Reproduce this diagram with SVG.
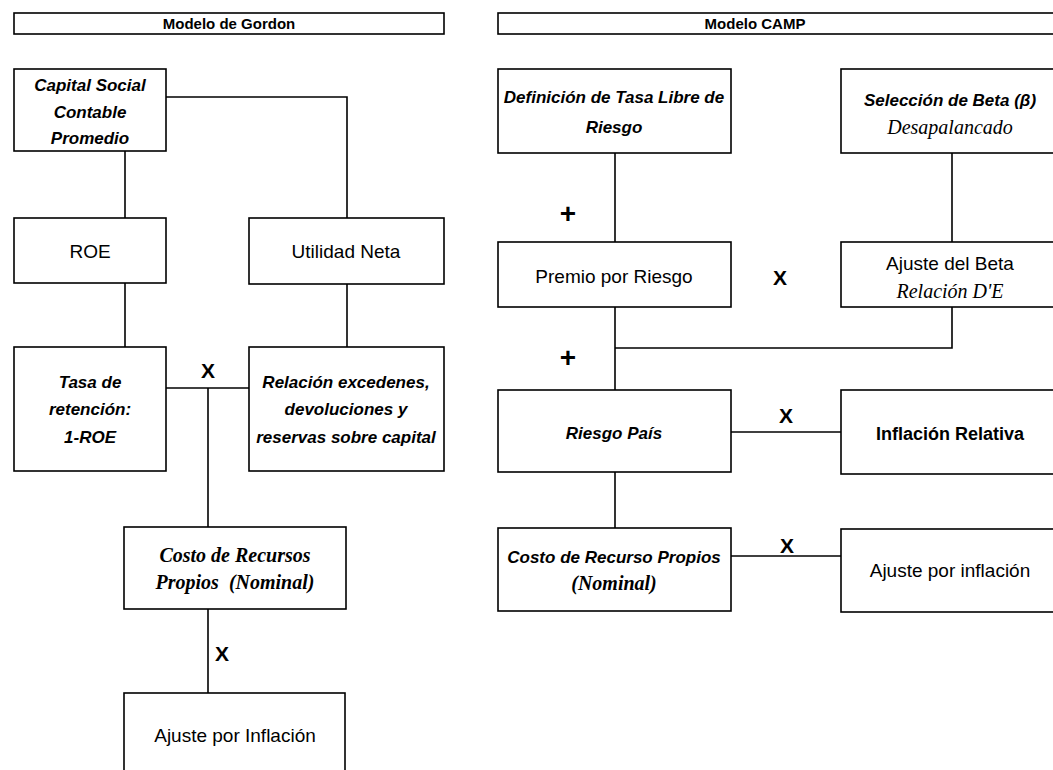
<svg xmlns="http://www.w3.org/2000/svg" width="1053" height="770" viewBox="0 0 1053 770">
<style>
.box{fill:#fff;stroke:#000;stroke-width:1.6}
.ln{fill:none;stroke:#000;stroke-width:1.6}
text{font-family:"Liberation Sans",Arial,sans-serif;fill:#000;text-anchor:middle}
.t{font-size:15px;font-weight:bold}
.r{font-size:19px}
.b{font-size:18px;font-weight:bold}
.bi{font-size:17px;font-weight:bold;font-style:italic}
.si{font-family:"Liberation Serif","Times New Roman",serif;font-size:20px;font-style:italic}
.sbi{font-family:"Liberation Serif","Times New Roman",serif;font-size:20px;font-weight:bold;font-style:italic}
.op{font-size:21px;font-weight:bold}
.pl{font-size:28px;font-weight:bold}
</style>
<rect width="1053" height="770" fill="#fff"/>
<g id="connectors">
<path class="ln" d="M125 151V218"/>
<path class="ln" d="M166 97H347V218"/>
<path class="ln" d="M125 283V347"/>
<path class="ln" d="M347 284V347"/>
<path class="ln" d="M166 388H249"/>
<path class="ln" d="M208 388V527"/>
<path class="ln" d="M208 609V693"/>
<path class="ln" d="M615 153V242"/>
<path class="ln" d="M952 153V242"/>
<path class="ln" d="M615 307V390"/>
<path class="ln" d="M615 348H952V307"/>
<path class="ln" d="M731 432H841"/>
<path class="ln" d="M615 472V528"/>
<path class="ln" d="M731 556H841"/>
<text class="op" x="208" y="378">X</text>
<text class="op" x="222" y="661">X</text>
<text class="pl" x="568" y="223">+</text>
<text class="pl" x="568" y="367">+</text>
<text class="op" x="780" y="285">X</text>
<text class="op" x="786" y="423">X</text>
<text class="op" x="787" y="553">X</text>
</g>
<g id="title-gordon"><rect class="box" x="14" y="13" width="430" height="21"/><text class="t" x="229" y="29">Modelo de Gordon</text></g>
<g id="title-camp"><rect class="box" x="498" y="13" width="570" height="21"/><text class="t" x="755" y="29">Modelo CAMP</text></g>
<g id="capital"><rect class="box" x="14" y="69" width="152" height="82"/>
<text class="bi" x="90" y="91">Capital Social</text><text class="bi" x="90" y="118">Contable</text><text class="bi" x="90" y="144">Promedio</text></g>
<g id="roe"><rect class="box" x="14" y="218" width="152" height="65"/><text class="r" x="90" y="258">ROE</text></g>
<g id="utilidad"><rect class="box" x="249" y="218" width="195" height="66"/><text class="r" x="346" y="258">Utilidad Neta</text></g>
<g id="tasa"><rect class="box" x="14" y="347" width="152" height="124"/>
<text class="bi" x="90" y="388">Tasa de</text><text class="bi" x="90" y="415">retención:</text><text class="bi" x="90" y="443">1-ROE</text></g>
<g id="relacion"><rect class="box" x="249" y="347" width="195" height="124"/>
<text class="bi" x="346" y="388">Relación excedenes,</text><text class="bi" x="346" y="415">devoluciones y</text><text class="bi" x="346" y="443">reservas sobre capital</text></g>
<g id="costo-gordon"><rect class="box" x="124" y="527" width="222" height="82"/>
<text class="sbi" x="235" y="562">Costo de Recursos</text><text class="sbi" x="235" y="589" xml:space="preserve">Propios  (Nominal)</text></g>
<g id="ajuste-gordon"><rect class="box" x="124" y="693" width="221" height="110"/><text class="r" x="235" y="742">Ajuste por Inflación</text></g>
<g id="definicion"><rect class="box" x="498" y="69" width="233" height="84"/>
<text class="bi" x="614" y="103">Definición de Tasa Libre de</text><text class="bi" x="614" y="133">Riesgo</text></g>
<g id="seleccion"><rect class="box" x="841" y="69" width="230" height="84"/>
<text class="bi" x="950" y="106">Selección de Beta (β)</text><text class="si" x="950" y="134">Desapalancado</text></g>
<g id="premio"><rect class="box" x="498" y="242" width="233" height="65"/><text class="r" x="614" y="283">Premio por Riesgo</text></g>
<g id="ajuste-beta"><rect class="box" x="841" y="242" width="230" height="65"/>
<text class="r" x="950" y="270">Ajuste del Beta</text><text class="si" x="950" y="298">Relación D'E</text></g>
<g id="riesgo-pais"><rect class="box" x="498" y="390" width="233" height="82"/><text class="bi" x="614" y="439">Riesgo País</text></g>
<g id="inflacion-relativa"><rect class="box" x="841" y="390" width="230" height="84"/><text class="b" x="950" y="440">Inflación Relativa</text></g>
<g id="costo-camp"><rect class="box" x="498" y="528" width="233" height="83"/>
<text class="bi" x="614" y="563">Costo de Recurso Propios</text><text class="sbi" x="614" y="590">(Nominal)</text></g>
<g id="ajuste-camp"><rect class="box" x="841" y="529" width="230" height="83"/><text class="r" x="950" y="577">Ajuste por inflación</text></g>
</svg>
